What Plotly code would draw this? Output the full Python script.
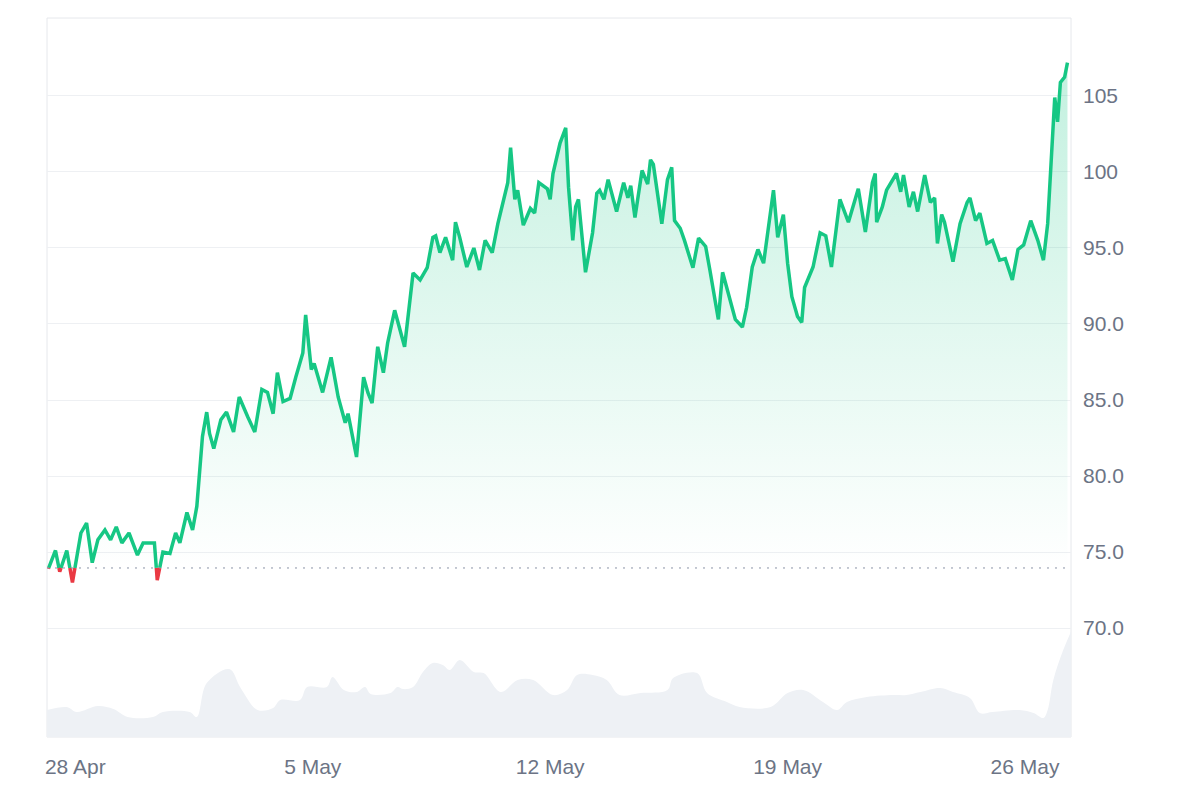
import plotly.graph_objects as go
from datetime import datetime, timedelta

START = datetime(2024, 4, 28)

# hours since 28 Apr 00:00 and price
price_hours = [-19, -14, -11, -6, -2, 4, 8, 12, 16, 21, 25, 29, 33, 38, 44, 48, 53, 56, 58, 62,
               67, 71, 74, 79, 83, 86, 90, 93, 95, 98, 103, 107, 112, 116, 122, 127, 132, 136, 140, 143,
               147, 152, 156, 161, 163, 167, 169, 175, 181, 186, 191, 193, 199, 204, 207, 210, 214, 218, 221, 226,
               233, 239, 244, 249, 253, 255, 258, 262, 267, 269, 272, 277, 282, 286, 290, 295, 299, 302, 306, 308,
               311, 313, 317, 322, 325, 328, 334, 336, 338, 343, 347, 349, 352, 354, 356, 361, 366, 369, 371, 374,
               377, 383, 388, 391, 393, 396, 401, 405, 407, 409, 412, 415, 419, 422, 424, 428, 431, 437, 441, 446,
               449, 455, 458, 462, 467, 472, 475, 479, 483, 487, 490, 494, 497, 501, 504, 507, 511, 514, 516, 522,
               527, 531, 535, 541, 547, 554, 559, 564, 566, 567, 571, 574, 581, 584, 586, 590, 593, 596, 601, 605,
               608, 610, 613, 615, 621, 626, 631, 633, 637, 640, 645, 649, 654, 658, 663, 667, 671, 676, 681, 685,
               688, 690, 693, 695, 697, 700, 702]
price = [73.9, 75.1, 73.7, 75.1, 73.0, 76.25, 76.9, 74.3, 75.8, 76.45, 75.8, 76.65, 75.6, 76.25, 74.8, 75.6, 75.6, 75.6, 73.15, 75.0,
         74.9, 76.25, 75.6, 77.6, 76.45, 78.0, 82.6, 84.2, 82.8, 81.8, 83.7, 84.2, 82.9, 85.2, 83.9, 82.9, 85.7, 85.5, 84.1, 86.8,
         84.9, 85.1, 86.5, 88.1, 90.6, 87.0, 87.4, 85.5, 87.8, 85.2, 83.5, 84.1, 81.25, 86.5, 85.5, 84.8, 88.5, 86.8, 88.75, 90.9,
         88.5, 93.35, 92.9, 93.7, 95.7, 95.8, 94.7, 95.7, 94.2, 96.7, 95.7, 93.75, 95.0, 93.55, 95.5, 94.7, 96.6, 97.7, 99.3, 101.6,
         98.2, 98.8, 96.5, 97.6, 97.3, 99.3, 98.9, 98.2, 99.9, 101.9, 102.9, 99.0, 95.5, 97.7, 98.2, 93.4, 96.0, 98.6, 98.8, 98.2,
         99.5, 97.4, 99.3, 98.3, 99.1, 97.0, 100.1, 99.2, 100.8, 100.5, 98.4, 96.6, 99.5, 100.3, 96.8, 96.3, 95.5, 93.7, 95.65, 95.1,
         93.55, 90.3, 93.4, 92.0, 90.3, 89.8, 91.1, 93.75, 94.9, 94.0, 96.2, 98.8, 95.7, 97.2, 94.0, 91.8, 90.5, 90.1, 92.4, 93.75,
         96.0, 95.8, 93.75, 98.2, 96.7, 98.9, 96.05, 99.3, 99.9, 96.7, 97.7, 98.8, 99.9, 98.7, 99.8, 97.7, 98.7, 97.4, 99.8, 98.0,
         98.3, 95.3, 97.2, 96.7, 94.1, 96.6, 98.0, 98.3, 96.8, 97.3, 95.3, 95.5, 94.2, 94.3, 92.9, 94.9, 95.2, 96.8, 95.5, 94.2,
         96.6, 99.7, 104.9, 103.3, 105.9, 106.25, 107.2]

volume_hours = [-20, -6, 1, 16, 27, 37, 55, 62, 81, 86, 93, 109, 117, 129, 140, 145, 159, 164, 178, 182,
                190, 199, 205, 209, 223, 228, 232, 239, 246, 253, 260, 265, 272, 282, 289, 301, 313, 324, 338, 348,
                355, 366, 376, 385, 400, 419, 423, 440, 447, 461, 470, 492, 504, 515, 529, 539, 546, 560, 579, 588,
                598, 612, 621, 633, 640, 649, 668, 678, 685, 688, 692, 699, 705]
volume = [27, 30, 25, 31, 28, 20, 20, 25, 25, 20, 54, 68, 49, 27, 29, 37, 37, 50, 50, 60,
          47, 45, 50, 43, 44, 50, 48, 50, 65, 74, 72, 67, 77, 65, 64, 45, 57, 57, 42, 47,
          62, 62, 57, 42, 44, 47, 59, 64, 44, 35, 30, 30, 44, 47, 35, 27, 35, 40, 42, 42,
          45, 49, 45, 39, 24, 25, 27, 24, 19, 27, 57, 87, 107]

base_price = 73.95
y_tickvals = [70, 75, 80, 85, 90, 95, 100, 105]
y_ticktext = ["70.0", "75.0", "80.0", "85.0", "90.0", "95.0", "100", "105"]
x_tick_days = [0, 7, 14, 21, 28]
x_ticktext = ["28 Apr", "5 May", "12 May", "19 May", "26 May"]

GREEN = "#16c784"
RED = "#ea3943"
LABEL = "#6c7485"
FONT = "Liberation Sans, Arial, sans-serif"

# split the line where it crosses the baseline
hs, ps = [], []
for i in range(len(price)):
    if i > 0:
        p0, p1 = price[i - 1], price[i]
        if (p0 - base_price) * (p1 - base_price) < 0:
            h0, h1 = price_hours[i - 1], price_hours[i]
            hc = h0 + (base_price - p0) / (p1 - p0) * (h1 - h0)
            hs.append(hc)
            ps.append(base_price)
    hs.append(price_hours[i])
    ps.append(price[i])

t = [START + timedelta(hours=h) for h in hs]
green_line = [p if p >= base_price else None for p in ps]
red_line = [p if p <= base_price else None for p in ps]
green_fill = [max(p, base_price) for p in ps]
red_fill = [min(p, base_price) for p in ps]
base_series = [base_price] * len(ps)

vt = [START + timedelta(hours=h) for h in volume_hours]

fig = go.Figure()
fig.add_trace(go.Scatter(x=vt, y=volume, yaxis="y2", mode="lines", line=dict(width=0, shape="spline"),
                         fill="tozeroy", fillcolor="#eef1f5", hoverinfo="skip", showlegend=False))
fig.add_trace(go.Scatter(x=t, y=base_series, mode="lines", line=dict(width=0), hoverinfo="skip", showlegend=False))
fig.add_trace(go.Scatter(x=t, y=green_fill, mode="lines", line=dict(width=0), fill="tonexty",
                         fillgradient=dict(type="vertical",
                                           colorscale=[[0, "rgba(22,199,132,0.0)"], [1, "rgba(22,199,132,0.26)"]]),
                         hoverinfo="skip", showlegend=False))
fig.add_trace(go.Scatter(x=t, y=base_series, mode="lines", line=dict(width=0), hoverinfo="skip", showlegend=False))
fig.add_trace(go.Scatter(x=t, y=red_fill, mode="lines", line=dict(width=0), fill="tonexty",
                         fillcolor="rgba(234,57,67,0.25)", hoverinfo="skip", showlegend=False))
fig.add_trace(go.Scatter(x=t, y=green_line, mode="lines", line=dict(color=GREEN, width=3.5), connectgaps=False,
                         showlegend=False))
fig.add_trace(go.Scatter(x=t, y=red_line, mode="lines", line=dict(color=RED, width=3.5), connectgaps=False,
                         showlegend=False))

fig.add_shape(type="line", xref="paper", x0=0, x1=1, yref="y", y0=base_price, y1=base_price,
              line=dict(color="#8a93a6", width=1, dash="2px,6px"), layer="above")
fig.add_shape(type="rect", xref="paper", yref="paper", x0=0, x1=1, y0=0, y1=1,
              line=dict(color="#e6e8ec", width=1), layer="below")

fig.update_layout(
    width=1200, height=800,
    margin=dict(l=39, r=137, t=10, b=71),
    paper_bgcolor="white", plot_bgcolor="white",
    font=dict(family=FONT, size=21, color=LABEL),
    xaxis=dict(type="date",
               range=[START + timedelta(hours=-20), START + timedelta(hours=704.5)],
               tickvals=[START + timedelta(days=d) for d in x_tick_days], ticktext=x_ticktext,
               showgrid=False, zeroline=False, showline=False, ticks="", ticklabelstandoff=15,
               tickfont=dict(size=21, color=LABEL, family=FONT)),
    yaxis=dict(side="right", range=[62.83, 110.13], tickvals=y_tickvals, ticktext=y_ticktext,
               showgrid=True, gridcolor="#eef0f3", gridwidth=1, zeroline=False, showline=False,
               ticks="", ticklabelstandoff=11, tickfont=dict(size=21, color=LABEL, family=FONT)),
    yaxis2=dict(overlaying="y", range=[0, 720], visible=False, showgrid=False),
)

fig.write_html("out.html")
